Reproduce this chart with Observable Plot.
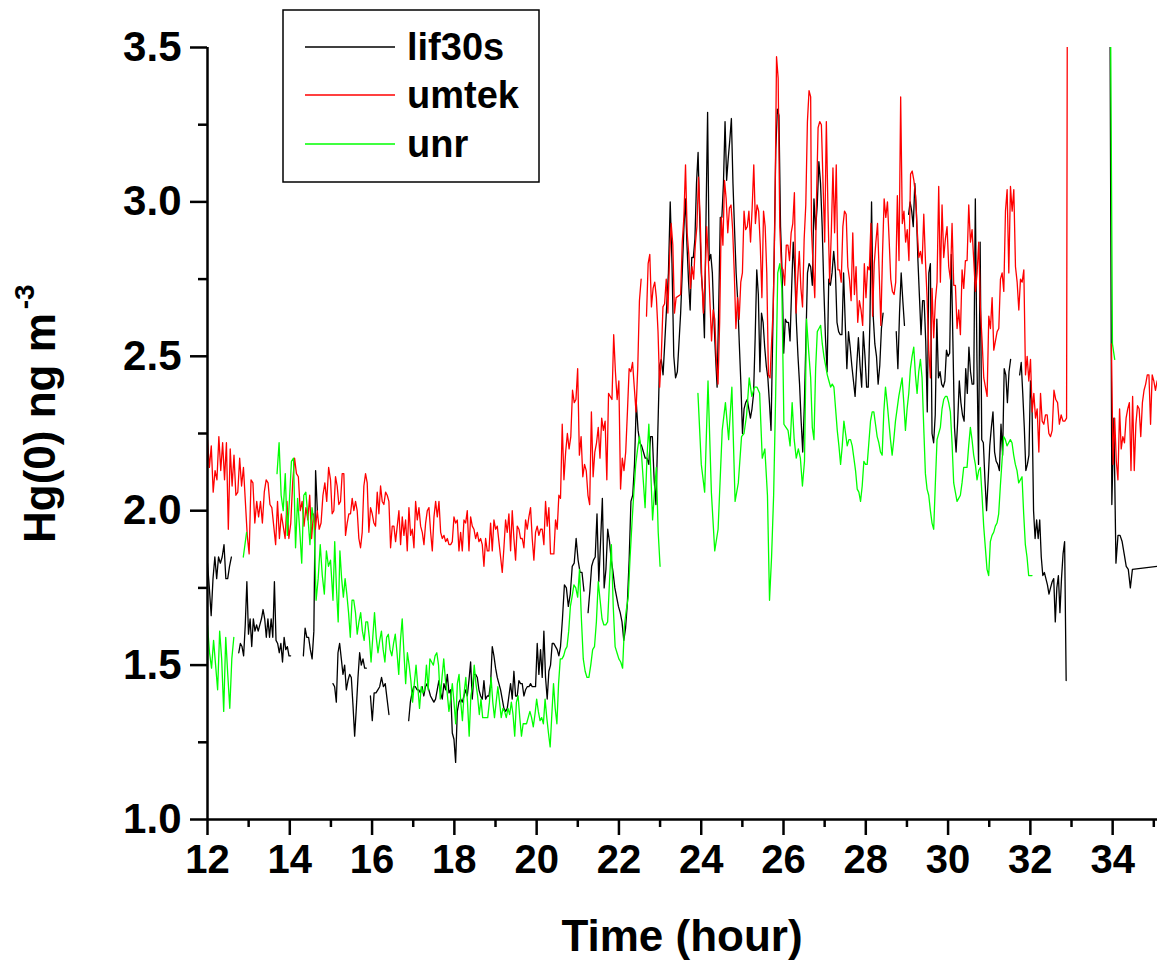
<!DOCTYPE html>
<html><head><meta charset="utf-8">
<script src="https://cdn.jsdelivr.net/npm/d3@7"></script>
<script src="https://cdn.jsdelivr.net/npm/@observablehq/plot@0.6"></script>
<style>
html,body{margin:0;padding:0;background:#fff;}
#chart{width:1157px;height:961px;position:relative;}
</style></head>
<body><div id="chart"></div>
<script>
// ---------- DATA (time in hours, Hg(0) in ng m-3) ----------
// each piece: [start hour, end hour, values evenly spaced]; null = break in line
const lif1 = [1.83,1.75,1.66,1.78,1.85,1.78,1.85,1.83,1.85,1.89,1.78,1.78,1.82,1.85];
const lif2 = [1.54,1.57,1.56,1.53,1.63,1.77,1.60,1.65,1.56,1.65,1.61,1.63,1.61,1.63,1.65,1.68,1.65,1.59,1.65,1.59,1.65,1.59,1.77,1.58,1.57,1.54,1.57,1.51,1.59,1.55,1.56,1.53,1.53];
const lif3 = [1.53,1.62,1.59,1.59,1.55,1.52,1.61,2.13,2.00];
const lif4 = [1.44,1.43,1.38,1.54,1.57,1.52,1.47,1.50,1.42,1.45,1.47,1.46,1.37,1.27,1.36,1.46,1.54,1.50,1.52,1.49,1.49];
const lif5 = [1.40,1.32,1.41,1.41,1.42,1.43,1.46,1.43,1.44,1.39,1.34];
const lif6 = [1.32,1.38,1.41,1.43,1.43,1.42,1.42,1.41,1.43,1.40,1.43,1.44,1.42,1.40,1.39,1.38,1.39,1.42,1.45,1.41,1.39,1.44,1.42,1.47,1.41,1.42];
const lif7 = [1.28,1.26,1.185,1.35,1.38,1.39,1.38,1.40,1.42,1.40,1.45,1.51,1.39,1.47,1.47,1.46,1.42,1.40,1.39,1.45,1.39,1.40,1.40,1.44,1.56,1.53,1.49,1.46,1.44,1.42,1.39,1.36,1.35,1.36,1.40,1.44,1.39,1.48,1.40,1.40,1.45,1.44,1.44,1.40,1.42,1.43,1.43,1.44,1.43,1.43,1.43,1.57,1.47,1.55,1.46,1.61,1.46,1.39,1.48,1.50,1.57,1.57,1.56,1.55,1.53];
const lif8 = [1.56,1.65,1.76,1.75,1.69,1.73,1.82,1.83,1.91,1.84,1.80,1.80,1.74];
const lif9 = [1.67,1.74,1.82,1.84,1.85,1.99,1.77,1.90,2.04,1.75,1.81,1.94,1.90,1.84,1.80,1.75,1.72,1.69,1.67,1.64,1.58,1.62,1.70,1.84,2.03,2.05,2.15,2.35,2.26,2.22,2.21,2.19,2.17,2.17,2.15,2.24,2.24,2.10,2.02,2.24,2.47,2.49,2.44,2.55,2.66,2.77,3.00,2.80,2.50,2.43,2.45];
const lif10 = [2.64,2.77,2.91,3.01,2.86,2.74,2.65,2.82,2.82,2.88,3.06,3.16,2.95,2.77,2.70,2.56,2.95,3.29,2.81,2.83,2.77,2.62,2.50,2.40,2.66,2.95,2.95,3.06,3.26,3.07,3.14,3.20,3.27,3.06,2.91,2.77,2.68,2.54,2.41,2.25,2.33,2.35,2.36,2.33,2.30,2.33,2.38,2.56,2.78,2.70,2.45,2.64,2.61,2.53,2.47,2.43,2.35,2.26,2.55,2.83,3.17,3.30,3.28,2.92,2.77,2.51,2.62,2.61,2.61,2.55,2.72,2.87,2.77,2.61,2.50,2.41,2.29,2.19,2.34,2.55,2.77,2.80,2.79];
const lif11 = [2.73,3.01,2.91,2.99,3.13,3.06,2.92,2.72,2.56,2.45,2.75,2.73,2.77,2.84,2.78,2.61,2.58,2.57,2.57,2.77,2.61,2.46,2.58,2.53,2.47,2.42,2.37,2.47,2.56,2.47,2.40,2.58,2.50,2.40,2.40,2.61,3.00,2.63,2.54,2.50,2.41,2.47,2.59,2.64];
const lif12 = [2.58,2.46,2.64,2.77,2.68,2.60];
const lif13 = [2.96,3.00,2.97,2.92,3.06,2.97,2.81,2.69,2.57,2.68,2.68,2.55,2.32,2.77,2.80];
const lif14 = [2.25,2.22,2.31,2.62,2.43,2.45,2.41,2.40,2.42,2.52,2.50,2.51,2.83,2.55,2.27,2.19,2.29,2.42,2.35,2.31,2.29,2.46,2.38,2.53,2.45,2.41,2.41,3.01,2.49,2.15,2.87,2.23,2.22,2.10,2.00,2.10,2.21,2.27,2.32,2.19,2.16,2.15,2.13,2.28,2.18,2.46,2.44,2.35,2.45,2.49];
const lif15 = [2.44,2.48,2.38,2.27,2.13,2.15,2.18,2.42,2.34,2.00,1.91,1.97,1.91,1.97,1.85,1.79,1.80,1.78,1.76,1.73,1.75];
const lif16 = [1.77,1.78,1.64,1.75,1.79,1.67,1.78,1.86,1.90,1.45];
const lif17 = [3.80,2.02,2.30,1.83,1.92,1.92,1.90,1.86,1.82,1.81,1.75,1.81];
const lif18 = [1.82];

const umtek1 = [2.23,2.14,2.21,2.06,2.13,2.10,2.24,2.13,2.22,2.10,2.22,1.94,2.20,2.08,2.18,2.05,2.06,2.17,2.08,2.14,2.03,1.92,1.86,2.10,2.09,1.96,2.03,1.98,2.03,1.96,2.06,2.10,2.09,2.02,2.01,1.95,1.89,2.03,1.91,1.99,1.95,1.91,2.03,1.91,1.96,2.09,2.17,2.12,2.11,2.00,2.03,1.95,2.01,1.97,2.05,1.91,1.99,1.94,2.00,1.94,1.96,2.05,2.09,2.03,2.14,2.10];
const umtek2 = [1.99,2.00,2.11,2.08,2.02,2.03,2.12,2.12,1.92,1.96,1.99,1.99,2.04,2.00,2.03,2.00,1.91,1.88,1.93,2.08,2.12,2.09,1.93,2.01,1.99,1.96,1.95,2.06,1.99,2.08,2.03,2.02,2.06,2.05,2.03,1.88,1.95,1.95,1.90,1.95,2.00,1.89,1.98,1.92,1.97,1.87,2.01,1.92,1.94,1.88,2.03,1.97,2.01,1.95,1.93,1.89,1.96,2.00,2.01,1.93,1.87,1.98,2.03,1.98,2.03,1.93,1.91,1.92,1.90,1.91,1.89,1.89];
const umtek3 = [1.90,1.98,1.96,1.97,1.87,1.93,1.87,1.97,1.96,2.00,1.87,1.98,1.95,1.94,1.91,1.93,1.90,1.91,1.89,1.82,1.91,1.87,1.87,1.96,1.87,1.97,1.94,1.95,1.90,1.85,1.80,1.88,1.97,1.93,1.99,1.87,2.00,1.91,1.84,1.95,1.94,1.91,1.91,1.88,1.97,1.94,1.98,2.01,1.91,1.84,1.93,1.95,1.92,1.94,1.94,1.89,2.03,1.95,2.01,1.86,1.86,1.86,1.97,1.94,2.05];
const umtek4 = [2.04,2.28,2.10,2.19,2.25,2.20,2.24,2.39,2.35,2.36,2.46,2.18,2.24,2.11,2.15,2.13,2.05,2.02,2.32,2.11,2.19,2.22,2.27,2.17,2.30,2.26,2.29,2.10,2.38,2.37,2.36,2.57,2.45,2.36,2.42,2.07,2.17,2.13,2.19,2.32,2.46,2.45,2.48,2.40,2.32,2.46,2.68,2.75];
const umtek5 = [2.63,2.80,2.83,2.66,2.72,2.74,2.69,2.58,2.40,2.50,2.66,2.67,2.75,2.64,2.82,2.93,2.86,2.64,2.69];
const umtek6 = [2.70,2.87,2.95,3.12,2.90,2.83,2.72,2.79,2.75,2.86,2.92,3.08,2.95,2.75,2.64,2.75,2.92,2.82,2.68,2.55,2.65,2.62,2.48,2.41,2.61,2.95,2.86,3.07,3.01,2.90,2.98,2.99,2.91,2.77,2.59,2.69,2.62,2.74,2.77,2.97,2.91,2.92,2.97,2.87,2.98,3.12,2.93,2.99,2.97,2.86,2.69,2.97,2.92,2.77,2.44,2.43,2.55,2.66,2.95,3.47,3.40,2.92,2.79,2.78,2.73,2.86,2.86,2.81,2.90,2.93,3.03,2.64,2.75,2.84,2.72,2.66,2.88,2.99,3.26,3.36,3.34];
const umtek7 = [2.91,2.79,2.69,3.00,3.24,3.26,3.25,3.06,2.87,3.26,2.97,2.74,2.90,3.11,2.90,3.12,2.78,2.78,2.74,2.92,2.97,2.96,2.79,2.75,2.68,2.90,2.70,2.79,2.61,2.68,2.65,2.60,2.80,2.69,2.79,2.78,2.93,2.63,2.80,2.87,2.93,2.77,2.60,2.83,3.01,2.95,3.00,2.88,2.75,2.71,2.70,2.74,3.02,2.81,3.34,2.93,2.97,2.87,2.91,2.81,3.09,3.10,3.07,3.02,2.91,2.82,2.84,2.80,2.96,2.81,2.69,2.52,2.43];
const umtek8 = [2.72,2.56,2.68,2.74,3.05,2.74,2.99,2.82,2.88,2.92,2.79,2.75,2.93,2.73,2.73,2.59,2.65,2.57,2.78,2.72,2.81,2.81,2.99,2.87,2.91,2.81,2.71,2.77,2.87,2.65,2.55,2.43,2.40,2.37,2.63,2.59,2.69,2.52,2.55,2.58,2.59,2.75,2.77,2.71,2.97,3.04,2.77,3.05,2.97,3.04,2.79,2.74,2.65,2.75,2.74,2.78,2.44,2.50,2.42,2.49,2.32,2.38,2.30,2.33,2.19,2.38,2.29,2.28,2.31,2.31,2.25,2.24];
const umtek9 = [2.26,2.39,2.36,2.35,2.28,2.31,2.29,2.29,2.30];
const umtek10 = [3.80];
const umtek11 = [2.54,2.15,2.30,2.16,2.10,2.33,2.20,2.24,2.22,2.30,2.33,2.35,2.13,2.37,2.13,2.28,2.34,2.33,2.24,2.35,2.39,2.41,2.44,2.44,2.28,2.44,2.42,2.39,2.42];

const unr1 = [1.63,1.54,1.49,1.58,1.50,1.42,1.61,1.52,1.35,1.59,1.47,1.36,1.52,1.59];
const unr2 = [1.85,1.93];
const unr3 = [2.12,2.22,2.05,2.00,2.12,1.92,2.03,2.16,2.17,1.88,2.04,1.94,1.83,2.05,2.06,1.98,1.89,2.01,1.96,1.71,1.78,1.89,1.79,1.73,1.87,1.82,1.84];
const unr4 = [1.71,1.90,1.75,1.64,1.87,1.78,1.72,1.78,1.73,1.67,1.59,1.71,1.71,1.67,1.60,1.64,1.67,1.61,1.58,1.64,1.64,1.59,1.51,1.59,1.67,1.59,1.54,1.58,1.61,1.55,1.51,1.59,1.60,1.55,1.53,1.57,1.60,1.54,1.47,1.58,1.65,1.54,1.44,1.54,1.50,1.45,1.38,1.44,1.50,1.43,1.36,1.43,1.41,1.42,1.50,1.42,1.52,1.51,1.50,1.53,1.54,1.50,1.39,1.46,1.52,1.45,1.41,1.35,1.39];
const unr5 = [1.44,1.38,1.31,1.44,1.47,1.38,1.32,1.41,1.46,1.38,1.27,1.40,1.43,1.50,1.44,1.40,1.34,1.39,1.33,1.33,1.33,1.33,1.38,1.46,1.38,1.33,1.38,1.43,1.38,1.33,1.36,1.35,1.33,1.36,1.34,1.38,1.34,1.27,1.38,1.40,1.33,1.27,1.31,1.31,1.31,1.33,1.35,1.33,1.30,1.34,1.39,1.35,1.32,1.33,1.31,1.39,1.33,1.28,1.235,1.34,1.44,1.36,1.31,1.44,1.52,1.52,1.53,1.55,1.56,1.61,1.69];
const unr6 = [1.72,1.76,1.75,1.72,1.81,1.65,1.52,1.48,1.46,1.46,1.50,1.55,1.56,1.64,1.77,1.71,1.65,1.63,1.63,1.64,1.77,1.89,1.69,1.56,1.54,1.52,1.51,1.49,1.63,1.68,1.72,1.85,1.96,2.06,2.15,2.20,2.24,2.19,2.10,2.01,2.17,2.28,2.13,1.97,2.06,2.14,1.93,1.82];
const unr7 = [2.38,2.15,2.06,2.42,2.06,1.87,1.94];
const unr8 = [2.26,2.35,2.23,2.40,2.03,2.09,2.24];
const unr9 = [2.25,2.31,2.43,2.37,2.40,2.40,2.38,2.17,2.20,2.05];
const unr10 = [1.71,1.85,2.05,2.38,2.77,2.80,2.72,2.28,2.27,2.26,2.21,2.35,2.23,2.17,2.20,2.17,2.08,2.16,2.62,2.52,2.43];
const unr11 = [2.27,2.23,2.46,2.58,2.59,2.60,2.54,2.50,2.47,2.44,2.42,2.40,2.41,2.40,2.33,2.26,2.21,2.15,2.21,2.29,2.25,2.21,2.23,2.23,2.21,2.17,2.13,2.07,2.06,2.03,2.08,2.16,2.15,2.15,2.22,2.29,2.32,2.32,2.28,2.24,2.22,2.19,2.18,2.32,2.40,2.35,2.29,2.23,2.18,2.23,2.29,2.33,2.37,2.40,2.43,2.35,2.26,2.33,2.38,2.46,2.50,2.53,2.44,2.38,2.45,2.49,2.43,2.27,2.12,2.07,2.05,2.00];
const unr12 = [1.96,1.94,2.09,2.23,2.25,2.27,2.33,2.36,2.37,2.37,2.35,2.32,2.22,2.09,2.06,2.03,2.04,2.05,2.09,2.14,2.14,2.14,2.21,2.27,2.23,2.18,2.15,2.10,2.13,2.14,2.05,1.95,1.88,1.81,1.79,1.90,1.92,1.93,1.95,1.96,1.99,2.08,2.16,2.24,2.23,2.21,2.22,2.23,2.22,2.18,2.15,2.13,2.09,2.10,2.11,1.99,1.89,1.85,1.79,1.79,1.79];
const unr13 = [3.80,2.54,2.49];

const lif30sPieces = [
  [12.00,12.58,lif1], null, [12.76,14.02,lif2], null, [14.33,14.67,lif3], null,
  [15.05,15.86,lif4], null, [15.96,16.41,lif5], null, [16.89,17.91,lif6], [17.95,20.54,lif7],
  [20.58,21.15,lif8], null, [21.25,23.42,lif9], [23.50,26.66,lif10], [26.70,28.42,lif11], null,
  [28.74,28.94,lif12], null, [29.04,29.57,lif13], [29.61,31.52,lif14], null,
  [31.74,32.49,lif15], [32.53,32.87,lif16], null, [33.93,34.48,lif17], [35.10,35.10,lif18]
];
const umtekPieces = [
  [12.00,14.99,umtek1], [15.03,17.91,umtek2], [17.95,20.54,umtek3], [20.58,22.54,umtek4], null,
  [22.67,23.39,umtek5], [23.50,26.66,umtek6], [26.68,29.57,umtek7], [29.61,32.49,umtek8],
  [32.53,32.88,umtek9], [32.90,32.90,umtek10], null, [33.97,35.08,umtek11]
];
const unrPieces = [
  [12.00,12.64,unr1], null, [12.87,12.95,unr2], null, [13.69,14.99,unr3], [15.05,17.91,unr4],
  [17.95,20.82,unr5], [20.86,23.00,unr6], null, [23.92,24.41,unr7], [24.51,24.98,unr8],
  [25.04,25.61,unr9], [25.66,26.66,unr10], [26.70,29.57,unr11], [29.61,32.04,unr12], null,
  [33.94,34.05,unr13]
];

const seriesNames = ["lif30s", "umtek", "unr"];
const seriesColors = ["#000000", "#ff0000", "#00ff00"];
const xTicks = [12,14,16,18,20,22,24,26,28,30,32,34];
const xMinorTicks = [13,15,17,19,21,23,25,27,29,31,33,35];
const yTicks = [1.0,1.5,2.0,2.5,3.0,3.5];
const yMinorTicks = [1.25,1.75,2.25,2.75,3.25];
const xTitle = "Time (hour)";
const yTitle = "Hg(0) ng m";
const yTitleSup = "-3";

// ---------- BUILD ----------
function expand(name, pieces) {
  const out = [];
  for (const p of pieces) {
    if (p === null) { out.push({series: name, t: NaN, v: NaN}); continue; }
    const [t0, t1, vals] = p;
    const n = vals.length;
    vals.forEach((v, i) => out.push({series: name, t: n > 1 ? t0 + (t1 - t0) * i / (n - 1) : t0, v}));
  }
  return out;
}
const allPieces = [lif30sPieces, umtekPieces, unrPieces];
const lineMarks = seriesNames.map((name, i) =>
  Plot.line(expand(name, allPieces[i]), {x: "t", y: "v", stroke: seriesColors[i], strokeWidth: 1.3, clip: true})
);

const FONT = "'Liberation Sans', Arial, Helvetica, sans-serif";
const plot = Plot.plot({
  width: 1157, height: 961,
  marginLeft: 207, marginRight: 0, marginTop: 47, marginBottom: 142,
  style: {fontFamily: FONT, fontWeight: "bold", fontSize: "40px", color: "#000", background: "#fff", overflow: "visible"},
  x: {domain: [12, 35.09], label: null},
  y: {domain: [1, 3.5], label: null},
  marks: [
    ...lineMarks,
    Plot.axisX({ticks: xMinorTicks, tickSize: 8, tickFormat: () => "", strokeWidth: 2.5, label: null}),
    Plot.axisX({ticks: xTicks, tickSize: 16, tickPadding: 9, strokeWidth: 2.5, label: null, fontSize: 40, fontWeight: "bold", tickFormat: d => String(d)}),
    Plot.axisY({ticks: yMinorTicks, tickSize: 9, tickFormat: () => "", strokeWidth: 2.5, label: null}),
    Plot.axisY({ticks: yTicks, tickSize: 17, tickPadding: 9, strokeWidth: 2.5, label: null, fontSize: 42, fontWeight: "bold", tickFormat: d3.format(".1f")}),
    Plot.ruleY([1], {strokeWidth: 2.5}),
    Plot.ruleX([12], {strokeWidth: 2.5})
  ]
});
document.getElementById("chart").appendChild(plot);

const svg = d3.select(plot);
// axis titles
svg.append("text").attr("x", 682).attr("y", 951).attr("text-anchor", "middle")
  .attr("font-family", FONT).attr("font-weight", "bold").attr("font-size", 44).attr("fill", "#000").text(xTitle);
const yt = svg.append("text").attr("transform", "translate(55,543) rotate(-90)")
  .attr("text-anchor", "start")
  .attr("font-family", FONT).attr("font-weight", "bold").attr("font-size", 44).attr("fill", "#000");
yt.append("tspan").text(yTitle);
yt.append("tspan").attr("dy", -21).attr("dx", 4).attr("font-size", 28).text(yTitleSup);

// legend
const lg = svg.append("g").attr("text-anchor", "start");
lg.append("rect").attr("x", 283).attr("y", 10).attr("width", 256).attr("height", 172)
  .attr("fill", "#fff").attr("stroke", "#000").attr("stroke-width", 1.5);
const legendY = [47, 95, 144];
seriesNames.forEach((name, i) => {
  lg.append("line").attr("x1", 305).attr("x2", 395).attr("y1", legendY[i]).attr("y2", legendY[i])
    .attr("stroke", seriesColors[i]).attr("stroke-width", 1.3);
  lg.append("text").attr("x", 407).attr("y", legendY[i] + 13).attr("text-anchor", "start").attr("font-family", FONT)
    .attr("font-weight", "bold").attr("font-size", 38).attr("fill", "#000").text(name);
});
</script>
</body></html>
